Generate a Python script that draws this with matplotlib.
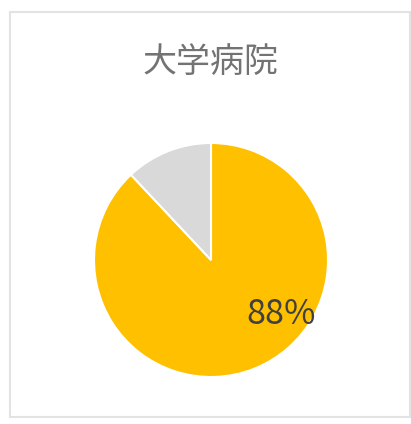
import matplotlib.pyplot as plt
from matplotlib.patches import Rectangle

plt.rcParams['font.family'] = ['Noto Sans CJK JP', 'DejaVu Sans']

title = '大学病院'
labels = ['該当', 'その他']
values = [88, 12]
colors = ['#FFC000', '#D9D9D9']

W, H = 411, 424
fig = plt.figure(figsize=(W / 100, H / 100), dpi=100)

# outer chart frame
fig.patches.append(Rectangle((10 / W, 1 - 417 / H), 400 / W, 405 / H,
                             transform=fig.transFigure, fill=False,
                             edgecolor='#E3E3E3', linewidth=1.5))

fig.text(211 / W, 1 - 62 / H, title, ha='center', va='center',
         fontsize=24.5, color='#737373')

r = 117
ax = fig.add_axes([(211 - r) / W, 1 - (260 + r) / H, 2 * r / W, 2 * r / H])
ax.pie(values, colors=colors, startangle=90, counterclock=False,
       wedgeprops=dict(edgecolor='white', linewidth=1.5))
ax.set_xlim(-1, 1)
ax.set_ylim(-1, 1)
ax.axis('off')

ax.text(0.60, -0.47, f'{values[0]}%', ha='center', va='center',
        fontsize=24.5, color='#404040')

fig.savefig('out.png', dpi=100)
